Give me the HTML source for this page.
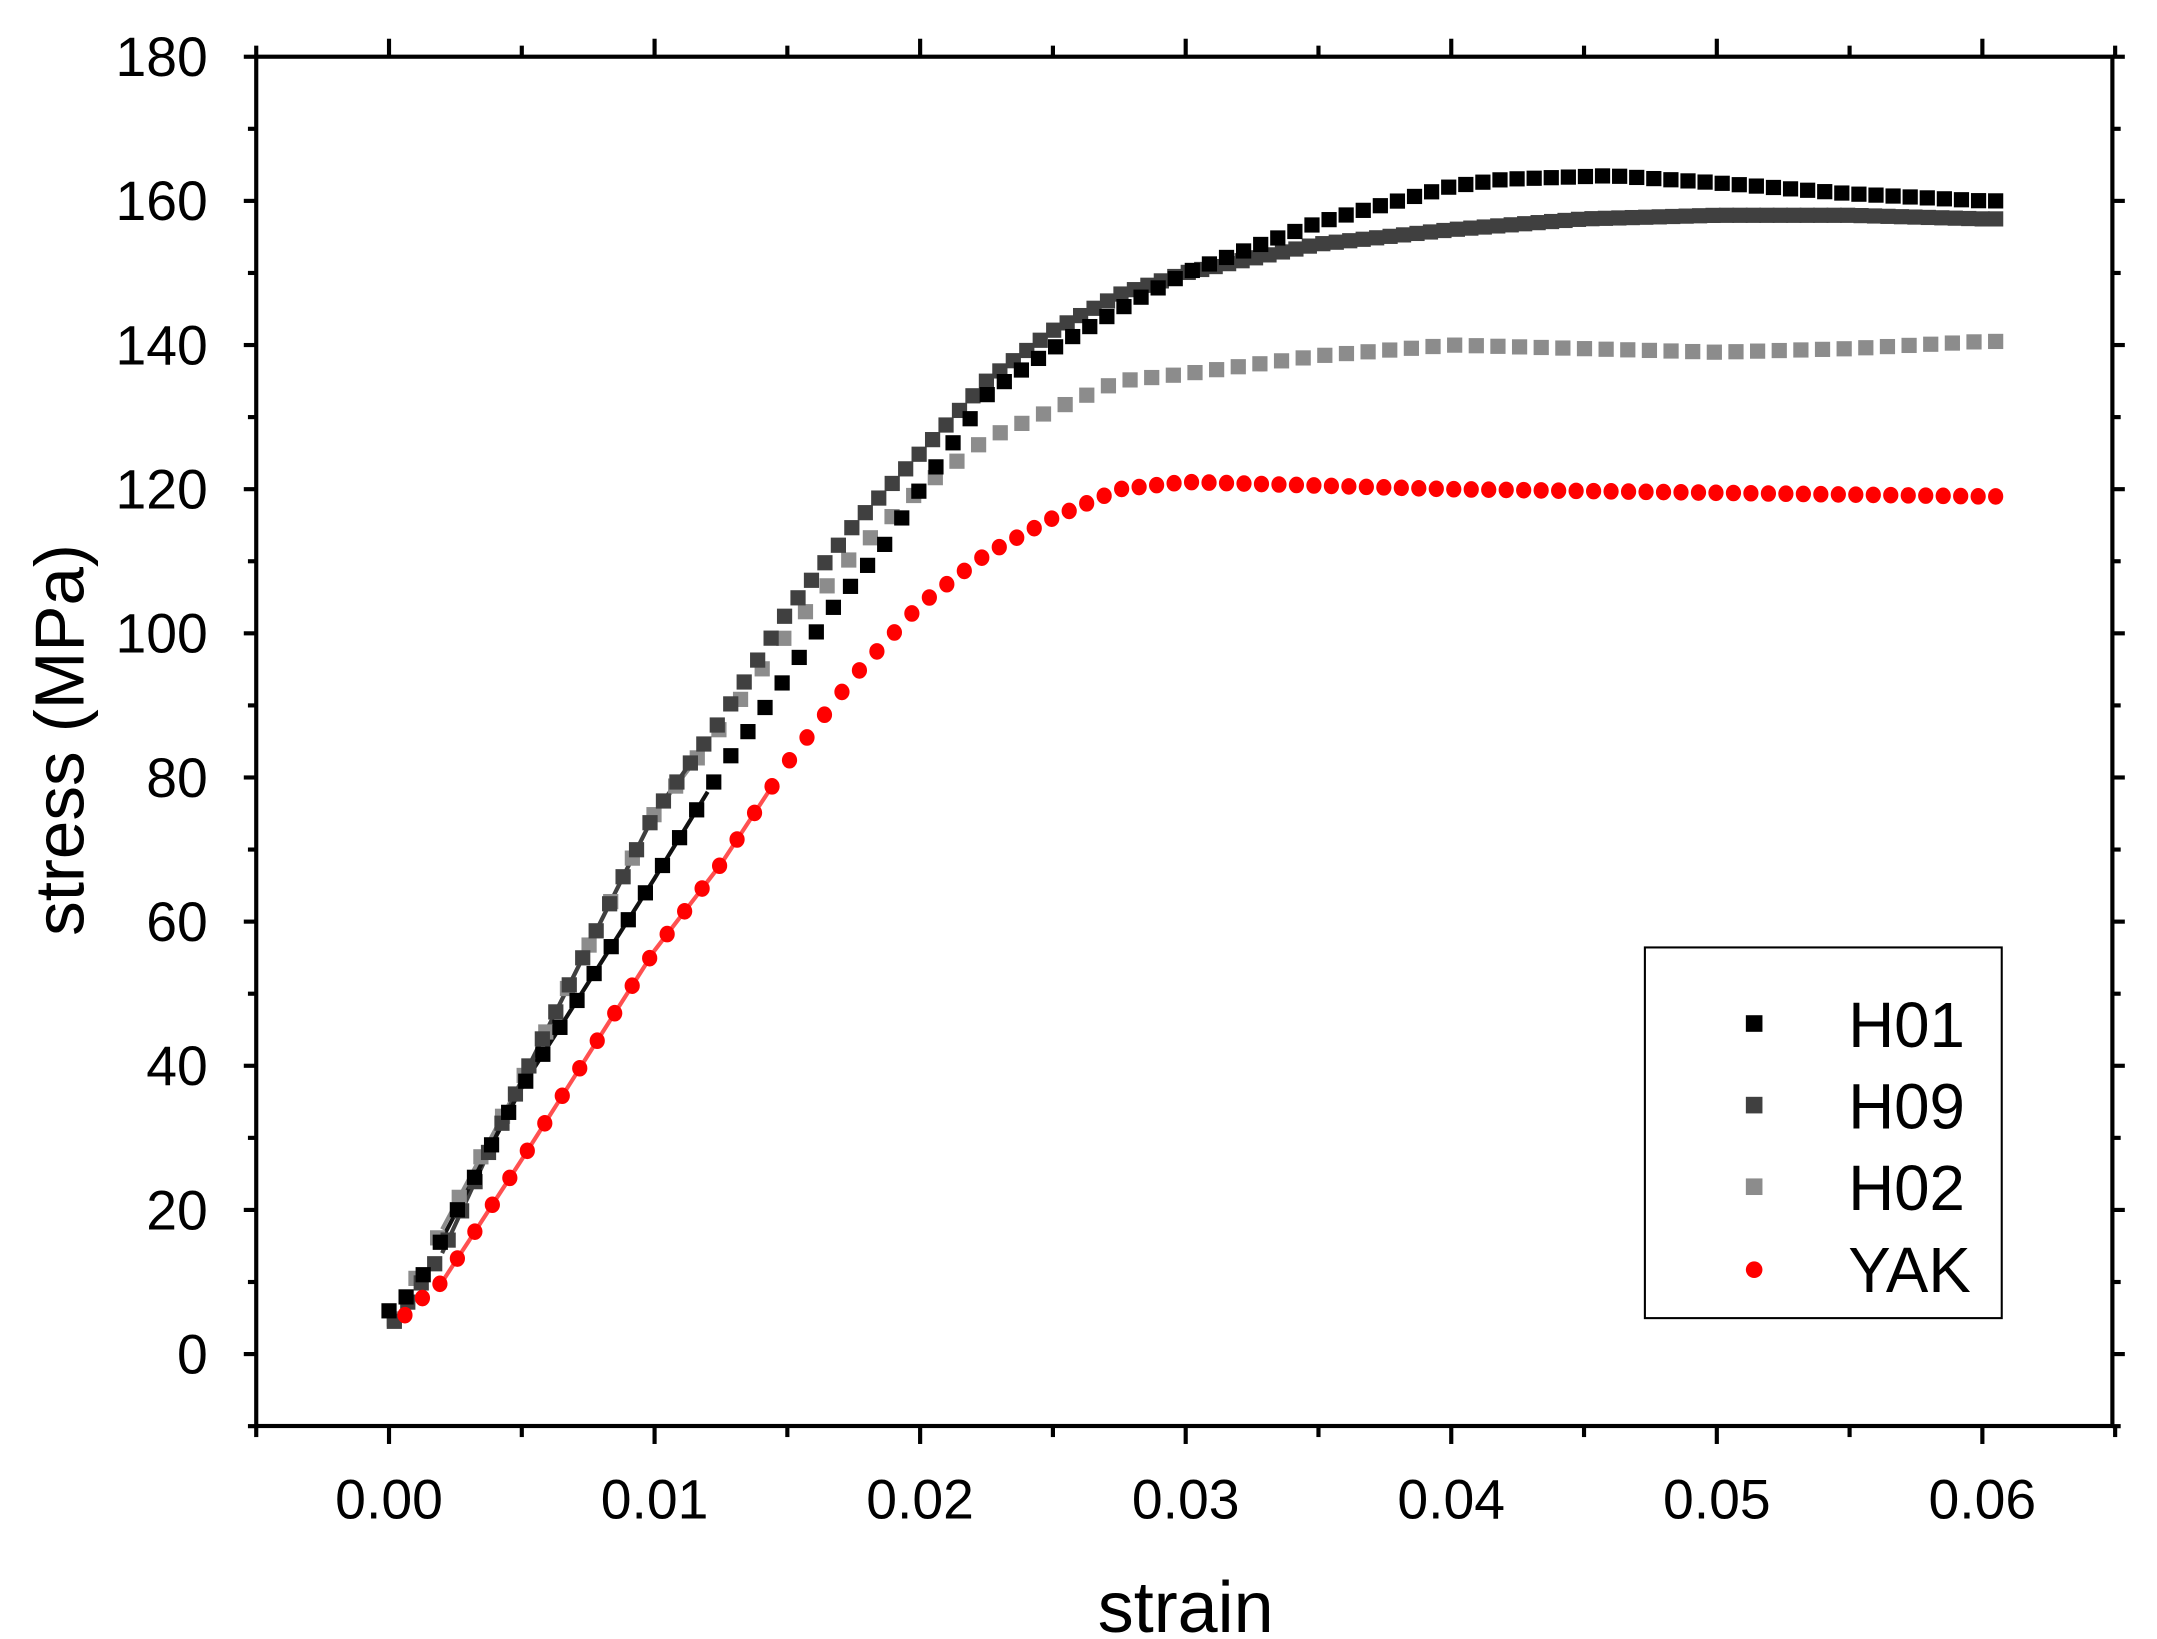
<!DOCTYPE html>
<html><head><meta charset="utf-8"><style>html,body{margin:0;padding:0;background:#fff;overflow:hidden}svg{display:block}text{font-family:"Liberation Sans",Arial,sans-serif}</style></head>
<body>
<svg id="s" width="2157" height="1639" viewBox="0 0 1559 1185" xmlns="http://www.w3.org/2000/svg">
<rect width="1559" height="1185" fill="#fff"/>
<g id="data"></g>
<g id="axes" stroke="#000" stroke-width="3" fill="none">
<rect x="185" y="41" width="1342" height="990"/>
</g>
<g id="ticks" stroke="#000" stroke-width="3"></g>
<g id="labels" font-size="40" fill="#000"></g>
<text x="857" y="1180" font-size="52" text-anchor="middle">strain</text>
<text transform="translate(60,535) rotate(-90)" font-size="50" text-anchor="middle">stress (MPa)</text>
<rect x="1189" y="685" width="258" height="268" fill="#fff" stroke="#000" stroke-width="1.5"/>
<rect x="1262" y="734" width="12" height="12" fill="#000"/>
<rect x="1262" y="793" width="12" height="12" fill="#404040"/>
<rect x="1262" y="852" width="12" height="12" fill="#8c8c8c"/>
<circle cx="1268" cy="918" r="6" fill="#f00"/>
<g font-size="46" fill="#000">
<text x="1336" y="757">H01</text>
<text x="1336" y="816">H09</text>
<text x="1336" y="875">H02</text>
<text x="1336" y="934">YAK</text>
</g>
</svg>
<script>
var NS="http://www.w3.org/2000/svg";
function X(s){return 281+s*19200;}
function Y(v){return 979-v*5.211;}
function el(p,t,a){var e=document.createElementNS(NS,t);for(var k in a)e.setAttribute(k,a[k]);document.getElementById(p).appendChild(e);return e;}
var tk="ticks",lb="labels";
for(var v=-10;v<=180;v+=10){var y=Y(v);var major=v%20==0;
 el(tk,"line",{x1:185-(major?9:6),y1:y,x2:185,y2:y});
 el(tk,"line",{x1:1527,y1:y,x2:1527+(major?9:6),y2:y});
 if(major)el(lb,"text",{x:150,y:y+14,"text-anchor":"end"}).textContent=v;}
for(var i=-1;i<=13;i++){var s=i*0.005;var x=X(s);var major=i%2==0;
 el(tk,"line",{x1:x,y1:1031,x2:x,y2:1031+(major?13:8)});
 el(tk,"line",{x1:x,y1:41-(major?13:8),x2:x,y2:41});
 if(major&&i>=0)el(lb,"text",{x:x,y:1098,"text-anchor":"middle"}).textContent=(s).toFixed(2);}
function interp(k,s){for(var i=0;i<k.length-1;i++){if(s<=k[i+1][0]){var a=k[i],b=k[i+1];var t=(s-a[0])/(b[0]-a[0]);return a[1]+t*(b[1]-a[1]);}}return k[k.length-1][1];}
var H01=[[0,6],[0.001,9],[0.002,16],[0.005,37],[0.01,66],[0.0126,81.6],[0.0146,92],[0.0166,103],[0.0187,112.5],[0.02,120],[0.0226,133.5],[0.0252,140],[0.0278,145.6],[0.03,150],[0.035,157],[0.04,162],[0.042,163],[0.046,163.5],[0.05,162.5],[0.055,161],[0.06,160]];
var H09=[[0,3.5],[0.002,14],[0.005,38],[0.01,75],[0.0125,88],[0.015,103],[0.0175,115],[0.02,125],[0.0225,135],[0.025,142],[0.0275,147],[0.03,150],[0.035,154],[0.04,156],[0.045,157.5],[0.05,158],[0.055,158],[0.06,157.5]];
var H02=[[0,3.5],[0.005,38],[0.01,75],[0.0125,87],[0.015,100],[0.0175,111],[0.02,120],[0.0225,127],[0.025,131],[0.0275,135],[0.03,136],[0.035,138.5],[0.04,140],[0.045,139.5],[0.05,139],[0.055,139.5],[0.06,140.5]];
var YAK=[[0.0005,5],[0.001,7],[0.002,10],[0.005,27],[0.01,56],[0.0125,68],[0.015,82],[0.0175,94],[0.02,104],[0.0225,111],[0.025,116],[0.0275,120],[0.03,121],[0.035,120.5],[0.04,120],[0.05,119.5],[0.06,119]];
function line(k,s0,s1,c,w){var d="";for(var s=s0;s<=s1;s+=0.0005)d+=(d?"L":"M")+X(s).toFixed(1)+","+Y(interp(k,s)).toFixed(1);el("data","path",{d:d,stroke:c,"stroke-width":w,fill:"none"});}
line(H02,0.002,0.012,"#8c8c8c",3);line(H09,0.002,0.0125,"#404040",3);line(H01,0.002,0.0125,"#111",3);line(YAK,0.002,0.015,"#ff5050",3);
function sq(k,s0,s1,n,c){for(var i=0;i<n;i++){var s=s0+(s1-s0)*i/(n-1);el("data","rect",{x:X(s)-5.5,y:Y(interp(k,s))-5.5,width:11,height:11,fill:c});}}
sq(H02,0.0002,0.0605,75,"#8c8c8c");
sq(H09,0.0002,0.0605,120,"#404040");
sq(H01,0,0.0605,95,"#000");
for(var i=0;i<92;i++){var s=0.0006+(0.0605-0.0006)*i/91;el("data","ellipse",{cx:X(s),cy:Y(interp(YAK,s)),rx:5.5,ry:6,fill:"#f00"});}
</script>
</body></html>
